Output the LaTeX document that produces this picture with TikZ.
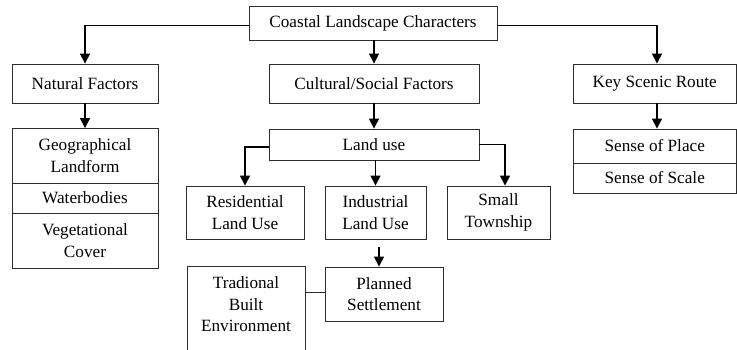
\documentclass[tikz,border=0pt]{standalone}
\usepackage{fontspec}
\setmainfont{Liberation Serif}
\usetikzlibrary{arrows.meta,positioning}
\definecolor{boxline}{RGB}{45,45,45}

\begin{document}
\begin{tikzpicture}[x=1pt,y=-1pt,
  font=\fontsize{17.2}{21.5}\selectfont,
  box/.style={draw=boxline, line width=0.9pt, align=center, inner sep=0pt},
  arr/.style={line width=1.4pt, -{Triangle[length=10pt,width=10pt]}}]
  \useasboundingbox (0,0) rectangle (737,349);

  % Top level
  \node[box, minimum width=248pt, minimum height=34pt] (coast) at (373,23) {Coastal Landscape Characters};
  \node[box, minimum width=146pt, minimum height=39pt] (natural) at (85,83.5) {Natural Factors};
  \node[box, minimum width=210pt, minimum height=39pt] (cultural) at (374,83.5) {Cultural/Social Factors};
  \node[box, minimum width=163pt, minimum height=39pt] (scenic) at (654.75,83.5) {Key Scenic Route};

  % Natural factors stack
  \node[box, minimum width=146pt, minimum height=54.5pt] (landform) at (85,155.75) {Geographical\\Landform};
  \node[box, minimum width=146pt, minimum height=30pt] (water) at (85,198) {Waterbodies};
  \node[box, minimum width=146pt, minimum height=55pt] (vegetation) at (85,240.5) {Vegetational\\Cover};

  % Cultural factors
  \node[box, minimum width=210pt, minimum height=31pt] (landuse) at (374,144.5) {Land use};
  \node[box, minimum width=118pt, minimum height=53pt] (residential) at (245,212.5) {Residential\\Land Use};
  \node[box, minimum width=101pt, minimum height=53pt] (industrial) at (375.5,212.5) {Industrial\\Land Use};
  \node[box, minimum width=103pt, minimum height=53pt] (township) at (498.5,212.5) {Small\\Township};
  \node[box, minimum width=118pt, minimum height=54pt] (planned) at (384,294) {Planned\\Settlement};
  \node[box, minimum width=118pt, minimum height=90pt,
    label={[align=center, yshift=6.5pt]center:Tradional\\Built\\Environment}] (tradional) at (246,311) {};

  % Scenic route stack
  \node[box, minimum width=163pt, minimum height=34pt] (place) at (654.75,146) {Sense of Place};
  \node[box, minimum width=163pt, minimum height=30pt] (scale) at (654.75,178) {Sense of Scale};

  % Connectors
  \draw[arr] ([yshift=-2.5pt]coast.west) -| (natural.north);
  \draw[arr] ([yshift=-2.5pt]coast.east) -| ([xshift=2.25pt]scenic.north);
  \draw[arr] (cultural.north |- coast.south) -- (cultural.north);
  \draw[arr] (natural.south) -- (landform.north);
  \draw[arr] (cultural.south) -- (landuse.north);
  \draw[arr] ([xshift=2.25pt]scenic.south) -- ([xshift=2.25pt]place.north);
  \draw[arr] ([yshift=-2.5pt]landuse.west) -| (residential.north);
  \draw[arr] (landuse.east) -| ([xshift=6.5pt]township.north);
  \draw[arr] (industrial.north |- landuse.south) -- (industrial.north);
  \draw[arr] ([shift={(3.5,8)}]industrial.south) -- ([xshift=3.5pt]industrial.south |- planned.north);
  \draw[boxline, line width=0.9pt] ([yshift=2pt]planned.west -| tradional.east) -- ([yshift=2pt]planned.west);
\end{tikzpicture}
\end{document}
